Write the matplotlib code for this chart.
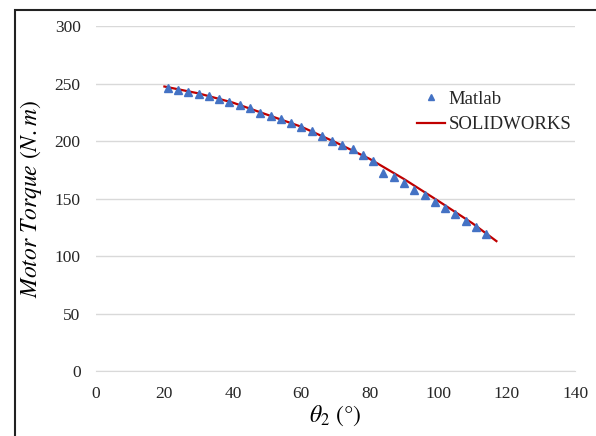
import numpy as np
import matplotlib.pyplot as plt
from matplotlib.patches import Rectangle

# Matlab results (triangles)
theta_matlab = [21, 24, 27, 30, 33, 36, 39, 42, 45, 48, 51, 54, 57, 60, 63, 66,
                69, 72, 75, 78, 81, 84, 87, 90, 93, 96, 99, 102, 105, 108, 111, 114]
torque_matlab = [246.0, 244.6, 242.9, 241.1, 238.9, 236.5, 234.2, 231.3, 228.4, 224.8,
                 221.7, 218.9, 215.9, 212.4, 208.4, 204.3, 199.7, 196.3, 192.8, 188.0,
                 182.5, 172.5, 168.4, 163.2, 157.9, 153.0, 147.2, 141.5, 136.3, 130.7,
                 125.0, 119.1]

# SOLIDWORKS results (line)
theta_sw = [20, 30, 40, 50, 60, 70, 80, 90, 100, 110, 117]
torque_sw = [247.5, 241.5, 233.5, 223.0, 212.5, 199.0, 184.5, 167.0, 148.0, 128.5, 113.0]

plt.rcParams['font.family'] = 'Liberation Serif'
plt.rcParams['mathtext.fontset'] = 'stix'

fig = plt.figure(figsize=(5.96, 4.36), dpi=100)
ax = fig.add_axes([0.161, 0.149, 0.804, 0.791])

ax.plot(theta_matlab, torque_matlab, '^', color='#4472C4', markersize=6, label='Matlab', zorder=3)
ax.plot(theta_sw, torque_sw, '-', color='#C00000', linewidth=1.6, label='SOLIDWORKS', zorder=2)

ax.set_xlim(0, 140)
ax.set_ylim(0, 300)
ax.set_xticks(np.arange(0, 141, 20))
ax.set_yticks(np.arange(0, 301, 50))
ax.grid(axis='y', color='#D9D9D9', linewidth=1)
ax.set_axisbelow(True)
for s in ['top', 'right', 'left']:
    ax.spines[s].set_visible(False)
ax.spines['bottom'].set_color('#D9D9D9')
ax.tick_params(length=0, labelsize=12.5, colors='#262626')
ax.tick_params(axis='x', pad=11)
ax.tick_params(axis='y', pad=11)

ax.set_xlabel(r'$\theta_2\ (°)$', fontsize=17, labelpad=1)
ax.set_ylabel(r'$Motor\ Torque\ (N.m)$', fontsize=17, labelpad=8)

leg = ax.legend(loc='upper left', bbox_to_anchor=(0.655, 0.835), frameon=False,
                fontsize=13.5, handlelength=1.5, handletextpad=0.15, labelspacing=0.45,
                borderaxespad=0, markerscale=0.8)
for t in leg.get_texts():
    t.set_color('#262626')

# frame around the whole picture (only left and top edges visible)
fig.patches.append(Rectangle((15 / 596, -0.2), 1.0, 1.2 - 10 / 436,
                             transform=fig.transFigure, fill=False,
                             edgecolor='#222222', linewidth=1.5, clip_on=False))

fig.savefig('out.png', dpi=100)
